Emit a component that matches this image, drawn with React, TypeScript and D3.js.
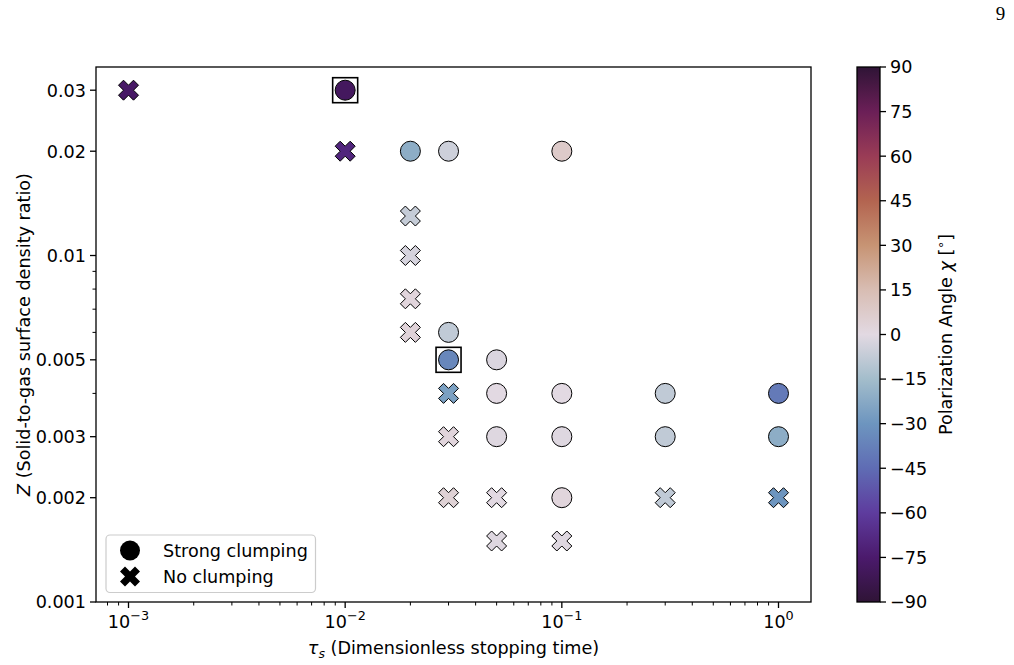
import React from "react";
import * as d3 from "d3";

// stopping time, metallicity, polarization angle, clumping outcome, highlighted run
const tauS = [0.001, 0.01, 0.01, 0.02, 0.03, 0.1, 0.02, 0.02, 0.02, 0.02, 0.03, 0.03, 0.05, 0.03, 0.05, 0.1, 0.3, 1, 0.03, 0.05, 0.1, 0.3, 1, 0.03, 0.05, 0.1, 0.3, 1, 0.05, 0.1];
const zVals = [0.03, 0.03, 0.02, 0.02, 0.02, 0.02, 0.013, 0.01, 0.0075, 0.006, 0.006, 0.005, 0.005, 0.004, 0.004, 0.004, 0.004, 0.004, 0.003, 0.003, 0.003, 0.003, 0.003, 0.002, 0.002, 0.002, 0.002, 0.002, 0.0015, 0.0015];
const chiVals = [-77, -79, -70, -21, -5, 8, -7, -3, 2, 3, -8, -35, -2, -26, 0, 0, -8, -40, 2, -1, -1, -8, -21, 4, 0, 2, -8, -30, -1, -1];
const clumped = [0, 1, 0, 1, 1, 1, 0, 0, 0, 0, 1, 1, 1, 0, 1, 1, 1, 1, 0, 1, 1, 1, 1, 0, 0, 1, 0, 0, 0, 0];
const boxed = [0, 1, 0, 0, 0, 0, 0, 0, 0, 0, 0, 1, 0, 0, 0, 0, 0, 0, 0, 0, 0, 0, 0, 0, 0, 0, 0, 0, 0, 0];

const yTicks = [0.001, 0.002, 0.003, 0.005, 0.01, 0.02, 0.03];
const yTickLabels = ["0.001", "0.002", "0.003", "0.005", "0.01", "0.02", "0.03"];
const yMinor = [0.004, 0.006, 0.007, 0.008, 0.009];
const xExps = [-3, -2, -1, 0];
const cbTicks = [-90, -75, -60, -45, -30, -15, 0, 15, 30, 45, 60, 75, 90];

// twilight_shifted, sampled by eye
const cmapStops = [-90, -75, -60, -45, -30, -15, 0, 15, 30, 45, 60, 75, 90];
const cmapColors = ["#2f1436", "#4b1a6c", "#5e3c9e", "#5f6cb4", "#6d95bf", "#a3bdcb", "#e2d9e2", "#d8bdb3", "#c79474", "#b36450", "#9a3c56", "#6b1f57", "#2f1436"];

const W = 1014, H = 665;
const m = { left: 96, right: 811, top: 67, bottom: 602 };
const cb = { left: 857, right: 880 };
const FONT = "'DejaVu Sans', sans-serif";
const FS = 17.6;

const xPath = (s: number) => {
  const pts = [[-1, -2], [0, -1], [1, -2], [2, -1], [1, 0], [2, 1], [1, 2], [0, 1], [-1, 2], [-2, 1], [-1, 0], [-2, -1]];
  return "M" + pts.map(p => `${p[0] * s},${p[1] * s}`).join("L") + "Z";
};

const App: React.FC = () => {
  const x = d3.scaleLog().domain([Math.pow(10, -3.15), Math.pow(10, 0.15)]).range([m.left, m.right]);
  const y = d3.scaleLog().domain([0.001, 0.035]).range([m.bottom, m.top]);
  const color = d3.scaleLinear<string>().domain(cmapStops).range(cmapColors).interpolate(d3.interpolateRgb);
  const cbY = d3.scaleLinear().domain([-90, 90]).range([m.bottom, m.top]);

  const xMinor: number[] = [];
  for (let e = -4; e <= 0; e++) {
    for (let k = 2; k <= 9; k++) {
      const v = k * Math.pow(10, e);
      const px = x(v);
      if (px >= m.left && px <= m.right) xMinor.push(v);
    }
  }

  const points = tauS.map((t, i) => ({ t, z: zVals[i], chi: chiVals[i], c: clumped[i], b: boxed[i] }));

  return (
    <svg width={W} height={H} style={{ position: "absolute", left: 0, top: 0, background: "#fff" }} fontFamily={FONT}>
      <defs>
        <linearGradient id="cbgrad" x1="0" y1="1" x2="0" y2="0">
          {cmapStops.map((s, i) => (
            <stop key={i} offset={(s + 90) / 180} stopColor={cmapColors[i]} />
          ))}
        </linearGradient>
      </defs>

      <text x={1000.5} y={20} fontFamily="'Liberation Serif', serif" fontSize={19} textAnchor="middle">9</text>

      {/* markers */}
      {points.map((p, i) => {
        const cx = x(p.t), cy = y(p.z);
        return (
          <g key={i} transform={`translate(${cx},${cy})`}>
            {p.c ? (
              <circle r={10} fill={color(p.chi)} stroke="#000" strokeWidth={1} />
            ) : (
              <path d={xPath(5)} fill={color(p.chi)} stroke="#000" strokeWidth={1} strokeLinejoin="miter" />
            )}
            {p.b ? <rect x={-12.5} y={-12.5} width={25} height={25} fill="none" stroke="#000" strokeWidth={1.6} /> : null}
          </g>
        );
      })}

      {/* frame */}
      <rect x={m.left} y={m.top} width={m.right - m.left} height={m.bottom - m.top} fill="none" stroke="#000" strokeWidth={1.3} />

      {/* y ticks */}
      {yTicks.map((v, i) => (
        <g key={"yt" + i}>
          <line x1={m.left - 6} x2={m.left} y1={y(v)} y2={y(v)} stroke="#000" strokeWidth={1.3} />
          <text x={m.left - 10} y={y(v)} dy="0.36em" textAnchor="end" fontSize={FS}>{yTickLabels[i]}</text>
        </g>
      ))}
      {yMinor.map((v, i) => (
        <line key={"ym" + i} x1={m.left - 3.5} x2={m.left} y1={y(v)} y2={y(v)} stroke="#000" strokeWidth={1} />
      ))}

      {/* x ticks */}
      {xExps.map(e => {
        const px = x(Math.pow(10, e));
        return (
          <g key={"xt" + e}>
            <line x1={px} x2={px} y1={m.bottom} y2={m.bottom + 6} stroke="#000" strokeWidth={1.3} />
            <text x={px} y={628} textAnchor="middle" fontSize={FS}>
              10<tspan fontSize={12.8} dy={-8}>{e < 0 ? "\u2212" + Math.abs(e) : String(e)}</tspan>
            </text>
          </g>
        );
      })}
      {xMinor.map((v, i) => (
        <line key={"xm" + i} x1={x(v)} x2={x(v)} y1={m.bottom} y2={m.bottom + 3.5} stroke="#000" strokeWidth={1} />
      ))}

      {/* axis labels */}
      <text x={(m.left + m.right) / 2} y={654} textAnchor="middle" fontSize={FS}>
        <tspan fontStyle="italic">τ</tspan><tspan fontStyle="italic" fontSize={12.5} dy={4}>s</tspan><tspan dy={-4}> (Dimensionless stopping time)</tspan>
      </text>
      <text transform={`translate(30,${(m.top + m.bottom) / 2}) rotate(-90)`} textAnchor="middle" fontSize={FS}>
        <tspan fontStyle="italic">Z</tspan> (Solid-to-gas surface density ratio)
      </text>

      {/* legend */}
      <rect x={106} y={535} width={209.5} height={57.5} rx={4} fill="#fff" fillOpacity={0.8} stroke="#ccc" strokeWidth={1.2} />
      <circle cx={130} cy={550.5} r={10} fill="#000" />
      <text x={163} y={550.5} dy="0.36em" fontSize={FS}>Strong clumping</text>
      <path transform="translate(130,576.5)" d={xPath(5)} fill="#000" />
      <text x={163} y={576.5} dy="0.36em" fontSize={FS}>No clumping</text>

      {/* colorbar */}
      <rect x={cb.left} y={m.top} width={cb.right - cb.left} height={m.bottom - m.top} fill="url(#cbgrad)" stroke="#000" strokeWidth={1.3} />
      {cbTicks.map(v => (
        <g key={"cb" + v}>
          <line x1={cb.right} x2={cb.right + 6} y1={cbY(v)} y2={cbY(v)} stroke="#000" strokeWidth={1.3} />
          <text x={cb.right + 10} y={cbY(v)} dy="0.36em" fontSize={FS}>{v < 0 ? "\u2212" + Math.abs(v) : String(v)}</text>
        </g>
      ))}
      <text transform={`translate(952,${(m.top + m.bottom) / 2}) rotate(-90)`} textAnchor="middle" fontSize={FS}>
        Polarization Angle <tspan fontStyle="italic">χ</tspan> [<tspan fontSize={12.5} dy={-7}>∘</tspan><tspan dy={7}>]</tspan>
      </text>
    </svg>
  );
};

export default App;
